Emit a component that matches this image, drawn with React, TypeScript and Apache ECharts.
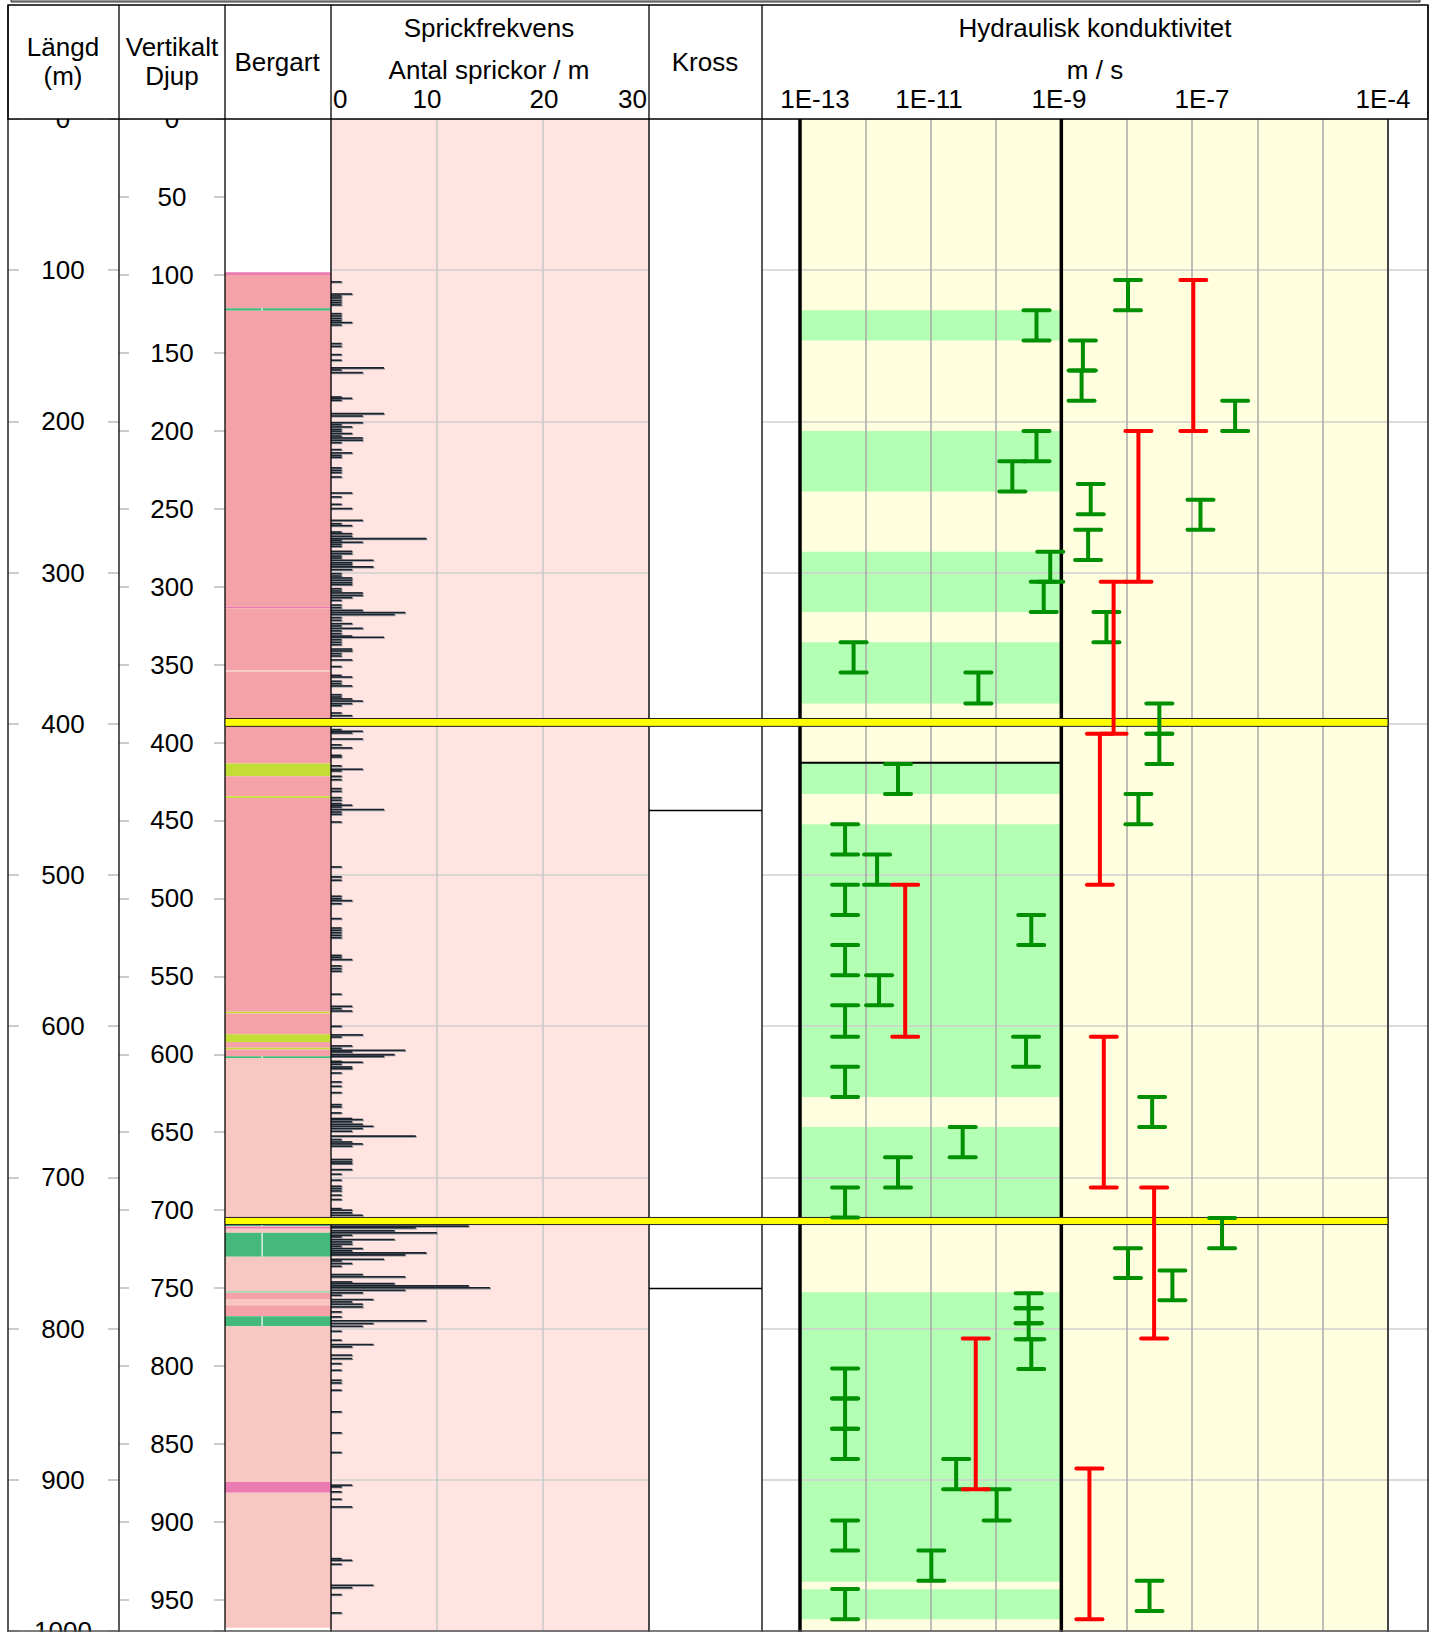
import React, { useEffect, useRef } from 'react';
import * as echarts from 'echarts';

const FONT = 'Liberation Sans, Arial, Helvetica, sans-serif';

// ---------- DATA ----------
// Längd axis range (m) and vertical depth at bottom of the column
const lengthMax = 1000;
const verticalDepthAtBottom = 970;

// Header tick labels
const fractureTickLabels = ['0', '10', '20', '30'];
const conductivityTickLabels = ['1E-13', '1E-11', '1E-9', '1E-7', '1E-4'];

// Bergart layers: [top Längd, bottom Längd, rock code]
const rockLayers: [number, number, string][] = [
  [101.3, 103.1, 'magenta'],
  [103.1, 125.2, 'pink'],
  [125.2, 126.9, 'green'],
  [126.9, 322.6, 'pink'],
  [322.6, 323.6, 'magenta'],
  [323.6, 364.6, 'pink'],
  [364.6, 365.5, 'light'],
  [365.5, 426.3, 'pink'],
  [426.3, 434.7, 'ygreen'],
  [434.7, 447.9, 'pink'],
  [447.9, 449.0, 'ygreen'],
  [449.0, 590.5, 'pink'],
  [590.5, 591.6, 'ygreen'],
  [591.6, 605.3, 'pink'],
  [605.3, 610.4, 'ygreen'],
  [610.4, 614.3, 'pink'],
  [614.3, 615.4, 'ygreen'],
  [615.4, 619.9, 'pink'],
  [619.9, 621.0, 'green'],
  [621.0, 731.1, 'light'],
  [731.1, 732.2, 'green'],
  [732.2, 732.7, 'light'],
  [732.7, 734.0, 'magenta'],
  [734.0, 736.6, 'light'],
  [736.6, 752.5, 'green'],
  [752.5, 775.2, 'light'],
  [775.2, 776.3, 'palegreen'],
  [776.3, 780.5, 'pink'],
  [780.5, 784.5, 'light'],
  [784.5, 791.8, 'pink'],
  [791.8, 798.4, 'green'],
  [798.4, 901.5, 'light'],
  [901.5, 908.6, 'magenta'],
  [908.6, 997.9, 'light'],
];

// Sprickfrekvens: [Längd (m), antal sprickor / m]
const fractures: [number, number][] = [
  [107.7, 1], [115.7, 2], [117.0, 1], [118.3, 1], [119.9, 1], [121.4, 1], [122.9, 1],
  [128.7, 1], [130.2, 1], [131.8, 1], [133.3, 1], [134.6, 2], [136.2, 1],
  [148.5, 1], [150.3, 1], [155.8, 1], [159.5, 1], [164.6, 5], [165.9, 1], [167.7, 3],
  [183.8, 1], [184.7, 2], [186.0, 1], [194.8, 5], [196.4, 3], [200.8, 3], [202.1, 1],
  [203.6, 2], [205.2, 1], [206.5, 1], [208.0, 2], [209.6, 1], [210.9, 3], [212.4, 3],
  [214.0, 1], [218.6, 1], [220.8, 2], [222.4, 1], [223.7, 1], [230.7, 1], [232.3, 1],
  [233.8, 1], [236.7, 1], [247.3, 2], [249.9, 1], [254.8, 1], [257.6, 2], [265.4, 3],
  [267.6, 1], [268.9, 2], [273.1, 1], [274.2, 2], [275.9, 2], [277.5, 9], [278.6, 1],
  [279.9, 3], [281.2, 1], [282.6, 1], [285.9, 2], [287.4, 2], [289.0, 1], [290.3, 1],
  [291.8, 4], [293.4, 2], [294.7, 2], [296.2, 4], [298.0, 2], [300.6, 1], [302.2, 1],
  [303.5, 2], [305.0, 2], [306.6, 2], [307.9, 2], [310.6, 1], [312.1, 1], [313.4, 3],
  [315.0, 3], [316.5, 2], [318.3, 1], [321.4, 1], [323.1, 1], [324.9, 3], [326.4, 7],
  [327.7, 6], [329.7, 1], [331.5, 1], [333.7, 2], [335.2, 1], [336.8, 3], [338.5, 1],
  [340.3, 1], [341.9, 2], [342.7, 5], [344.3, 1], [346.0, 1], [347.6, 1], [350.5, 2],
  [351.8, 2], [353.5, 1], [355.1, 1], [357.7, 2], [362.1, 1], [367.9, 1], [369.0, 2],
  [371.8, 1], [373.4, 1], [374.9, 2], [380.7, 1], [382.2, 1], [383.5, 2], [384.9, 3],
  [386.6, 2], [387.9, 1], [392.8, 1], [394.6, 2], [403.8, 1], [404.9, 3], [406.0, 2],
  [410.0, 3], [413.9, 1], [415.9, 2], [420.8, 1], [421.9, 1], [427.8, 1], [430.0, 3],
  [431.1, 1], [434.7, 1], [436.9, 1], [442.8, 1], [444.6, 1], [448.8, 1], [450.5, 1],
  [452.7, 1], [453.8, 2], [455.0, 1], [456.7, 5], [458.3, 1], [459.8, 1], [464.9, 1],
  [494.6, 1], [501.2, 1], [503.4, 1], [514.0, 1], [515.6, 1], [516.9, 2], [518.9, 1],
  [528.8, 1], [535.0, 1], [536.5, 1], [538.1, 1], [539.8, 1], [541.4, 1], [553.1, 1],
  [554.4, 1], [555.9, 2], [560.1, 1], [561.9, 1], [563.6, 1], [578.8, 1], [586.8, 2],
  [588.3, 1], [589.9, 2], [600.0, 1], [605.7, 3], [607.1, 1], [613.0, 2], [614.6, 1],
  [615.9, 7], [617.0, 2], [618.8, 6], [619.9, 5], [623.2, 1], [623.8, 3], [625.1, 1],
  [626.9, 2], [628.0, 2], [630.9, 1], [636.8, 1], [639.7, 1], [643.9, 1], [651.8, 1],
  [653.3, 1], [657.3, 1], [661.0, 2], [661.7, 3], [663.2, 2], [664.8, 3], [666.1, 4],
  [667.6, 3], [669.4, 2], [672.7, 8], [674.9, 1], [676.5, 2], [677.8, 3], [679.3, 2],
  [688.1, 2], [689.7, 2], [690.8, 2], [694.8, 2], [697.8, 1], [701.8, 1], [705.8, 1],
  [707.3, 1], [708.9, 1], [711.7, 1], [714.6, 1], [720.6, 1], [721.6, 2], [723.4, 2],
  [725.0, 3], [732.2, 13], [733.3, 8], [735.3, 6], [736.6, 10], [738.2, 2], [739.3, 1],
  [741.0, 6], [742.6, 2], [744.1, 2], [745.5, 1], [747.0, 3], [748.5, 2], [749.9, 9],
  [751.2, 7], [754.1, 5], [755.2, 1], [756.9, 2], [758.7, 1], [764.2, 3], [765.7, 7],
  [769.1, 2], [770.2, 6], [771.7, 13], [773.0, 15], [774.6, 7], [776.3, 3], [777.9, 1],
  [780.7, 4], [782.3, 2], [783.8, 3], [785.6, 3], [788.9, 1], [792.2, 1], [794.8, 9],
  [796.6, 4], [798.4, 3], [801.7, 1], [807.6, 1], [810.5, 4], [812.0, 2], [817.5, 2],
  [819.8, 2], [823.1, 1], [827.5, 1], [834.1, 1], [835.9, 1], [840.7, 1], [855.0, 1],
  [868.9, 1], [881.9, 1], [903.5, 2], [904.6, 1], [907.9, 1], [912.8, 1], [917.9, 2],
  [952.1, 1], [953.2, 2], [955.8, 1], [969.7, 4], [971.3, 2], [975.9, 1], [988.0, 1],
];

// Kross: Längd of crush-zone boundaries
const crushLines = [457.3, 773.4];

// Yellow marker bands (Längd top, bottom)
const yellowBands: [number, number][] = [[396.5, 401.7], [726.5, 731.2]];

// Sections below measurement limit (green bands), Längd top/bottom
const lowKZones: [number, number][] = [
  [126.5, 146.5], [206.3, 246.3], [286.2, 326.1], [346.0, 386.6], [426.0, 446.5],
  [466.5, 646.8], [666.7, 726.6], [776.0, 967.5], [972.4, 992.3],
];
const limitLineDepths = [425.7];

// Hydraulic conductivity, log10(K m/s), 20 m (and shorter) sections: [logK, top, bottom]
const k20: [number, number, number][] = [
  [-7.98, 106.5, 126.5], [-9.38, 126.5, 146.5], [-8.67, 146.5, 166.4], [-8.69, 166.4, 186.4],
  [-6.34, 186.4, 206.3], [-9.38, 206.3, 226.3], [-9.75, 226.3, 246.3], [-8.55, 241.4, 261.4],
  [-6.87, 251.8, 271.7], [-8.59, 271.7, 291.7], [-9.17, 286.2, 306.1], [-9.27, 306.1, 326.1],
  [-8.31, 326.1, 346.0], [-12.18, 346.0, 366.0], [-10.27, 366.0, 386.6], [-7.50, 386.6, 406.6],
  [-7.50, 406.6, 426.6], [-11.50, 426.6, 446.5], [-7.82, 446.5, 466.5], [-12.31, 466.5, 486.4],
  [-11.82, 486.4, 506.4], [-12.31, 506.4, 526.4], [-9.46, 526.4, 546.3], [-12.31, 546.3, 566.3],
  [-11.79, 566.3, 586.2], [-12.31, 586.2, 606.9], [-9.54, 606.9, 626.8], [-12.31, 626.8, 646.8],
  [-7.61, 646.8, 666.7], [-10.51, 666.7, 686.7], [-11.50, 686.7, 706.7], [-12.31, 706.7, 726.6],
  [-6.54, 726.8, 746.8], [-7.98, 746.8, 766.6], [-7.30, 761.6, 781.2], [-9.50, 776.7, 786.6],
  [-9.50, 786.6, 796.5], [-9.50, 796.5, 807.1], [-9.46, 807.1, 826.8], [-12.31, 826.4, 846.3],
  [-12.31, 846.3, 866.3], [-12.31, 866.3, 886.2], [-10.61, 886.2, 906.2], [-9.99, 906.2, 926.9],
  [-12.31, 926.9, 946.8], [-10.99, 946.8, 966.8], [-7.65, 966.8, 986.7], [-12.31, 972.3, 992.3],
];
// 100 m sections: [logK, top, bottom]
const k100: [number, number, number][] = [
  [-6.98, 106.5, 206.3], [-7.82, 206.3, 306.1], [-8.20, 306.1, 406.6], [-8.41, 406.6, 506.4],
  [-11.39, 506.4, 606.9], [-8.35, 606.9, 706.7], [-7.58, 706.7, 806.5], [-10.31, 806.5, 906.3],
  [-8.57, 892.5, 992.3],
];
const kAxisMin = -13;
const kAxisMax = -4;
const kRefLines = [-13, -9];

// ---------- STYLE / LAYOUT ----------
const rockColors: Record<string, string> = {
  pink: '#F4A2A8', light: '#F8C7C1', magenta: '#EB7AB2', green: '#44B97B',
  ygreen: '#C3DD36', palegreen: '#9AD8B0',
};
const TOP = 119;
const H = 1512;
const colX = [8, 119, 225, 331, 649, 762, 1428];

function buildOption(): any {
  const grid = (left: number, width: number, extra: any = {}) => ({
    left, top: TOP, width, height: H, containLabel: false, outerBoundsMode: 'none', ...extra,
  });
  const hiddenX = (gridIndex: number) => ({ gridIndex, type: 'value', min: 0, max: 1, show: false });
  const depthY = (gridIndex: number, extra: any = {}) => ({
    gridIndex, type: 'value', inverse: true, min: 0, max: lengthMax, ...extra,
  });
  const tickStyle = { show: true, inside: true, length: 11, lineStyle: { color: '#cccccc', width: 2 } };
  const labelStyle = {
    fontSize: 26, color: '#000', fontFamily: FONT, align: 'center',
    formatter: (v: number) => String(v),
  };

  const iBeam = (color: string, data: [number, number, number][], z: number) => ({
    type: 'custom', xAxisIndex: 6, yAxisIndex: 8, z, silent: true,
    data: data.map(d => [d[0], d[1], d[2]]),
    renderItem: (_p: any, api: any) => {
      const a = api.coord([api.value(0), api.value(1)]);
      const b = api.coord([api.value(0), api.value(2)]);
      const hw = 13;
      const st = { stroke: color, lineWidth: 4, lineCap: 'round' };
      return {
        type: 'group', children: [
          { type: 'line', shape: { x1: a[0], y1: a[1], x2: b[0], y2: b[1] }, style: { stroke: color, lineWidth: 4 } },
          { type: 'line', shape: { x1: a[0] - hw, y1: a[1], x2: a[0] + hw, y2: a[1] }, style: st },
          { type: 'line', shape: { x1: b[0] - hw, y1: b[1], x2: b[0] + hw, y2: b[1] }, style: st },
        ],
      };
    },
  });

  const graphics: any[] = [];
  // top frame remnant
  graphics.push({ type: 'rect', z: 21, shape: { x: 11, y: -6, width: 1409, height: 8 }, style: { fill: '#9a9a9a', stroke: '#333', lineWidth: 1 } });
  // header box
  graphics.push({ type: 'rect', z: 20, shape: { x: colX[0], y: 5, width: colX[6] - colX[0], height: TOP - 5 }, style: { fill: '#fff', stroke: '#000', lineWidth: 1.3 } });
  colX.forEach(x => {
    graphics.push({ type: 'line', z: 21, shape: { x1: x, y1: 5, x2: x, y2: TOP }, style: { stroke: '#000', lineWidth: 1.3 } });
    graphics.push({ type: 'line', z: 5, shape: { x1: x, y1: TOP, x2: x, y2: 1632 }, style: { stroke: '#000', lineWidth: 1.3 } });
  });
  graphics.push({ type: 'line', z: 5, shape: { x1: colX[0], y1: 1631, x2: colX[6], y2: 1631 }, style: { stroke: '#555', lineWidth: 1.5 } });

  const txt = (text: string, x: number, y: number, align = 'center') => ({
    type: 'text', z: 22, x, y,
    style: { text, fontSize: 26, fontFamily: FONT, fill: '#000', textAlign: align, align, textVerticalAlign: 'middle', verticalAlign: 'middle' },
  });
  graphics.push(txt('Längd', 63, 47), txt('(m)', 63, 76));
  graphics.push(txt('Vertikalt', 172, 47), txt('Djup', 172, 76));
  graphics.push(txt('Bergart', 277, 62));
  graphics.push(txt('Sprickfrekvens', 489, 28), txt('Antal sprickor / m', 489, 70));
  graphics.push(txt('Kross', 705, 62));
  graphics.push(txt('Hydraulisk konduktivitet', 1095, 28), txt('m / s', 1095, 70));
  const fxPos: [number, string][] = [[333, 'left'], [427, 'center'], [544, 'center'], [647, 'right']];
  fractureTickLabels.forEach((t, i) => graphics.push(txt(t, fxPos[i][0], 99, fxPos[i][1])));
  const kxPos = [815, 929, 1059, 1202, 1383];
  conductivityTickLabels.forEach((t, i) => graphics.push(txt(t, kxPos[i], 99)));

  return {
    animation: false,
    backgroundColor: '#fff',
    textStyle: { fontFamily: FONT },
    grid: [
      grid(colX[0], colX[1] - colX[0]),
      grid(colX[1], colX[2] - colX[1]),
      grid(colX[2], colX[3] - colX[2]),
      grid(colX[3], colX[4] - colX[3], { show: true, backgroundColor: '#FFE4E1', borderWidth: 0 }),
      grid(colX[4], colX[5] - colX[4]),
      grid(colX[5], colX[6] - colX[5]),
      grid(800, 588, { show: true, backgroundColor: '#FFFFE0', borderWidth: 0 }),
      grid(colX[2], 1388 - colX[2]),
    ],
    xAxis: [
      hiddenX(0), hiddenX(1), hiddenX(2),
      {
        gridIndex: 3, type: 'value', min: 0, max: 30, interval: 10, z: 1,
        axisLine: { show: false }, axisTick: { show: false }, axisLabel: { show: false },
        splitLine: { show: true, lineStyle: { color: '#c8c8c8', width: 1.5 } },
      },
      hiddenX(4), hiddenX(5),
      {
        gridIndex: 6, type: 'value', min: kAxisMin, max: kAxisMax, interval: 1, z: 3,
        axisLine: { show: false }, axisTick: { show: false }, axisLabel: { show: false },
        splitLine: { show: true, lineStyle: { color: '#a8a8a8', width: 1.5 } },
      },
      hiddenX(7),
    ],
    yAxis: [
      depthY(0, {
        interval: 100, position: 'left', axisLine: { show: false }, axisTick: tickStyle,
        axisLabel: { ...labelStyle, margin: -55 }, splitLine: { show: false },
      }),
      depthY(0, {
        interval: 100, position: 'right', axisLine: { show: false }, axisTick: tickStyle,
        axisLabel: { show: false }, splitLine: { show: false },
      }),
      {
        gridIndex: 1, type: 'value', inverse: true, min: 0, max: verticalDepthAtBottom, interval: 50,
        position: 'left', axisLine: { show: false }, axisTick: { ...tickStyle, length: 10 },
        axisLabel: { ...labelStyle, margin: -53, showMaxLabel: false }, splitLine: { show: false },
      },
      {
        gridIndex: 1, type: 'value', inverse: true, min: 0, max: verticalDepthAtBottom, interval: 50,
        position: 'right', axisLine: { show: false }, axisTick: tickStyle,
        axisLabel: { show: false }, splitLine: { show: false },
      },
      depthY(2, { show: false }),
      depthY(3, {
        interval: 100, z: 1, axisLine: { show: false }, axisTick: { show: false }, axisLabel: { show: false },
        splitLine: { show: true, lineStyle: { color: '#cfcfcf', width: 1.5 } },
      }),
      depthY(4, { show: false }),
      depthY(5, {
        interval: 100, z: 3, axisLine: { show: false }, axisTick: { show: false }, axisLabel: { show: false },
        splitLine: { show: true, lineStyle: { color: '#cfcfcf', width: 1.5 } },
      }),
      depthY(6, { show: false }),
      depthY(7, { show: false }),
    ],
    graphic: { elements: graphics },
    series: [
      {
        type: 'custom', xAxisIndex: 2, yAxisIndex: 4, z: 2, silent: true,
        data: rockLayers.map(r => [r[0], r[1]]),
        renderItem: (p: any, api: any) => {
          const code = rockLayers[p.dataIndex][2];
          const a = api.coord([0, api.value(0)]);
          const b = api.coord([1, api.value(1)]);
          const h = Math.max(b[1] - a[1], 1.5);
          const children: any[] = [
            { type: 'rect', shape: { x: a[0], y: a[1], width: b[0] - a[0], height: h }, style: { fill: rockColors[code] } },
          ];
          if (code === 'green') {
            const tx = a[0] + (b[0] - a[0]) * 0.35;
            children.push({ type: 'line', shape: { x1: tx, y1: a[1], x2: tx, y2: a[1] + h }, style: { stroke: '#fff', lineWidth: 1.2 } });
          }
          return { type: 'group', children };
        },
      },
      {
        type: 'custom', xAxisIndex: 3, yAxisIndex: 5, z: 2, silent: true,
        data: fractures.map(f => [f[1], f[0]]),
        renderItem: (_p: any, api: any) => {
          const a = api.coord([0, api.value(1) - 0.5]);
          const b = api.coord([api.value(0), api.value(1) + 0.5]);
          const h = Math.max(b[1] - a[1], 1.6);
          return {
            type: 'group', children: [
              { type: 'rect', shape: { x: a[0], y: a[1] + 0.8, width: b[0] - a[0] + 1, height: h }, style: { fill: '#8a9199' } },
              { type: 'rect', shape: { x: a[0], y: a[1], width: b[0] - a[0], height: h }, style: { fill: '#1b232c' } },
            ],
          };
        },
      },
      {
        type: 'custom', xAxisIndex: 4, yAxisIndex: 6, z: 2, silent: true,
        data: crushLines.map(d => [0, d]),
        renderItem: (_p: any, api: any) => {
          const a = api.coord([0, api.value(1)]);
          const b = api.coord([1, api.value(1)]);
          return { type: 'line', shape: { x1: a[0], y1: a[1], x2: b[0], y2: b[1] }, style: { stroke: '#000', lineWidth: 1.5 } };
        },
      },
      {
        type: 'custom', xAxisIndex: 6, yAxisIndex: 8, z: 2, silent: true,
        data: lowKZones.map(z => [z[0], z[1]]),
        renderItem: (_p: any, api: any) => {
          const a = api.coord([kRefLines[0], api.value(0)]);
          const b = api.coord([kRefLines[1], api.value(1)]);
          return { type: 'rect', shape: { x: a[0], y: a[1], width: b[0] - a[0], height: b[1] - a[1] }, style: { fill: '#B3FFB3' } };
        },
      },
      {
        type: 'custom', xAxisIndex: 6, yAxisIndex: 8, z: 4, silent: true,
        data: kRefLines.map(k => [k, 0]),
        renderItem: (_p: any, api: any) => {
          const a = api.coord([api.value(0), 0]);
          const b = api.coord([api.value(0), lengthMax]);
          return { type: 'line', shape: { x1: a[0], y1: a[1], x2: b[0], y2: b[1] + 5 }, style: { stroke: '#000', lineWidth: 3.5 } };
        },
      },
      {
        type: 'custom', xAxisIndex: 6, yAxisIndex: 8, z: 4, silent: true,
        data: [[kAxisMax, 0]],
        renderItem: (_p: any, api: any) => {
          const a = api.coord([api.value(0), 0]);
          const b = api.coord([api.value(0), lengthMax]);
          return { type: 'line', shape: { x1: a[0], y1: a[1], x2: b[0], y2: b[1] + 5 }, style: { stroke: '#444', lineWidth: 2 } };
        },
      },
      {
        type: 'custom', xAxisIndex: 6, yAxisIndex: 8, z: 4, silent: true,
        data: limitLineDepths.map(d => [0, d]),
        renderItem: (_p: any, api: any) => {
          const a = api.coord([kRefLines[0], api.value(1)]);
          const b = api.coord([kRefLines[1], api.value(1)]);
          return { type: 'line', shape: { x1: a[0], y1: a[1], x2: b[0], y2: b[1] }, style: { stroke: '#000', lineWidth: 2 } };
        },
      },
      {
        type: 'custom', xAxisIndex: 7, yAxisIndex: 9, z: 6, silent: true,
        data: yellowBands.map(b => [b[0], b[1]]),
        renderItem: (_p: any, api: any) => {
          const a = api.coord([0, api.value(0)]);
          const b = api.coord([1, api.value(1)]);
          return { type: 'rect', shape: { x: a[0], y: a[1], width: b[0] - a[0], height: b[1] - a[1] }, style: { fill: '#FFFF00', stroke: '#222', lineWidth: 1 } };
        },
      },
      iBeam('#008f00', k20, 8),
      iBeam('#ff0000', k100, 9),
    ],
  };
}

export default function App() {
  const ref = useRef<HTMLDivElement>(null);
  useEffect(() => {
    const chart = echarts.init(ref.current as HTMLDivElement, null, { renderer: 'svg', width: 1434, height: 1632 });
    chart.setOption(buildOption());
    return () => chart.dispose();
  }, []);
  return <div ref={ref} style={{ position: 'absolute', left: 0, top: 0, width: 1434, height: 1632 }} />;
}
